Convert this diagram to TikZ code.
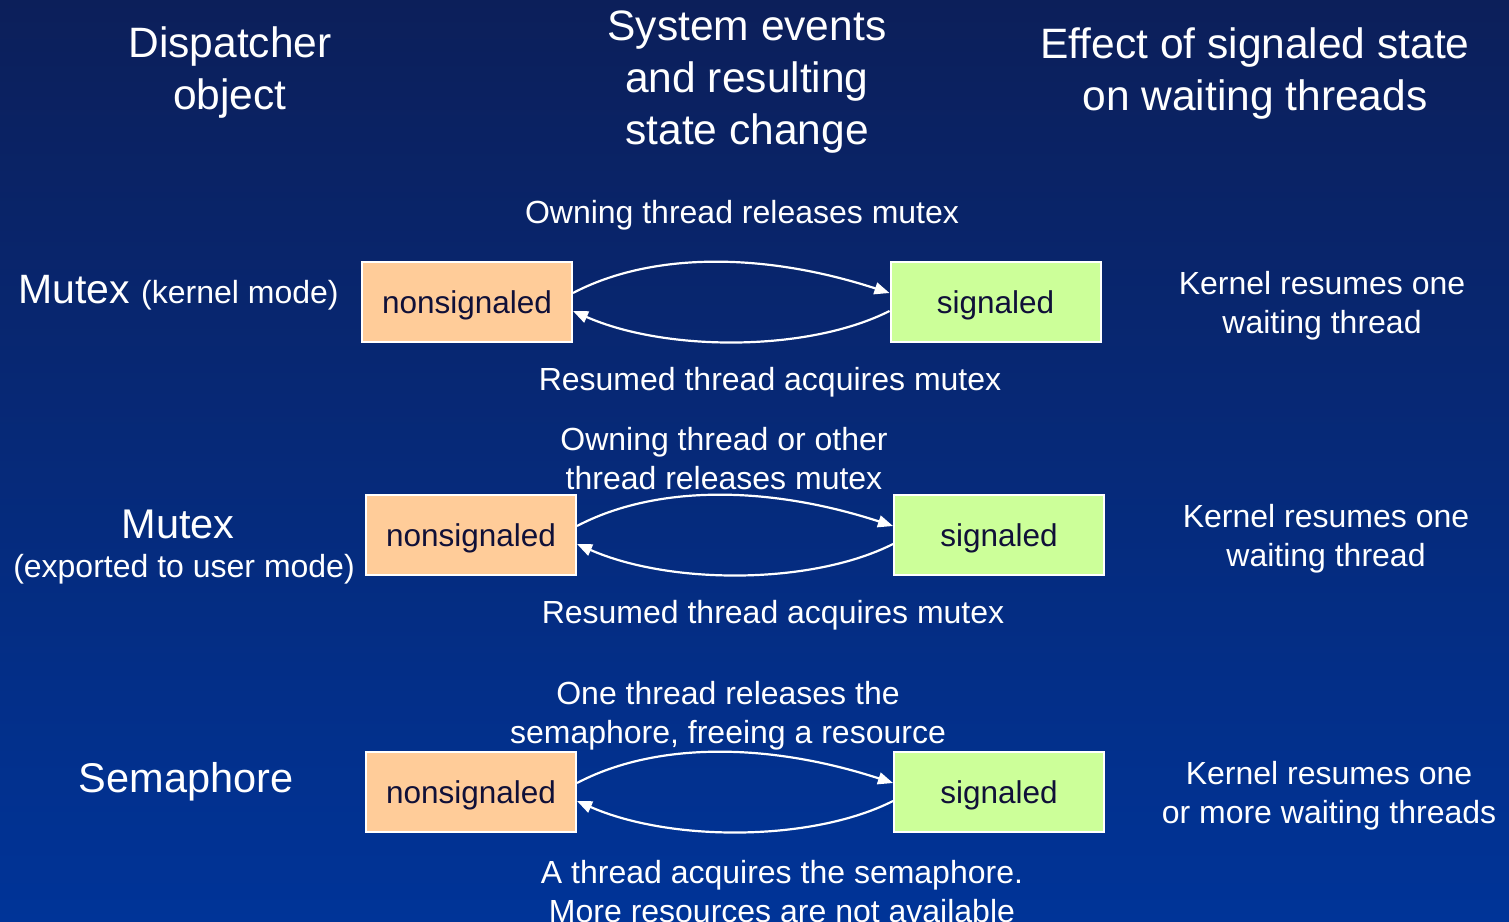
\documentclass[tikz,border=0pt]{standalone}
\usepackage{fontspec}
\setmainfont{Liberation Sans}
\usetikzlibrary{arrows.meta,calc}
\definecolor{bgtop}{RGB}{12,31,90}
\definecolor{bgbot}{RGB}{0,52,152}
\definecolor{peach}{RGB}{255,204,153}
\definecolor{lime}{RGB}{204,255,153}
\definecolor{boxtext}{RGB}{16,16,56}
\begin{document}
\begin{tikzpicture}[x=1pt,y=-1pt,
  head/.style={text=white,align=center,font=\fontsize{42.5}{52}\selectfont,inner sep=0pt,yshift=-4.5pt},
  lbl/.style={text=white,align=center,font=\fontsize{32}{38.5}\selectfont,inner sep=0pt,yshift=-3.5pt},
  big/.style={text=white,align=center,font=\fontsize{41.5}{48}\selectfont,inner sep=0pt,yshift=-3.5pt},
  state/.style={draw=white,line width=2pt,minimum width=210pt,minimum height=80pt,
    inner sep=0pt,text height=23pt,text depth=0pt,text=boxtext,font=\fontsize{31.5}{38}\selectfont},
  nsbox/.style={state,fill=peach},
  sgbox/.style={state,fill=lime},
  flow/.style={draw=white,line width=2.2pt,-{Triangle[length=15pt,width=12pt]}}]

% background
\fill[top color=bgtop,bottom color=bgbot] (0,0) rectangle (1509,921);
\useasboundingbox (0,0) rectangle (1509,921);

% column headings
\node[head] (h1) at (230,68) {Dispatcher\\object};
\node[head] (h2) at (747,78) {System events\\and resulting\\state change};
\node[head] (h3) at (1255,69) {Effect of signaled state\\on waiting threads};

% row 1: mutex in kernel mode
\node[anchor=west,text=white,inner sep=0pt,yshift=-3pt] (o1) at (18,290)
  {\fontsize{41}{48}\selectfont Mutex \fontsize{32}{38}\selectfont(kernel mode)};
\node[nsbox] (ns1) at (467,302) {nonsignaled};
\node[sgbox] (sg1) at (995.5,302) {signaled};
\node[lbl] (u1) at (742,212) {Owning thread releases mutex};
\node[lbl] (d1) at (770,379) {Resumed thread acquires mutex};
\node[lbl] (e1) at (1322,302) {Kernel resumes one\\waiting thread};
\draw[flow] ($(ns1.east)+(0,-9)$) .. controls +(78,-41) and +(-126,-41) .. ($(sg1.west)+(0,-9)$);
\draw[flow] ($(sg1.west)+(0,9)$) .. controls +(-81,41) and +(93,41) .. ($(ns1.east)+(0,9)$);

% row 2: mutex exported to user mode
\node[big] (o2) at (178,521) {Mutex};
\node[lbl] (o2b) at (184,566) {(exported to user mode)};
\node[nsbox] (ns2) at (471,535) {nonsignaled};
\node[sgbox] (sg2) at (999,535) {signaled};
\node[lbl] (u2) at (724,455) {Owning thread or other\\thread releases mutex};
\node[lbl] (d2) at (773,612) {Resumed thread acquires mutex};
\node[lbl] (e2) at (1326,535) {Kernel resumes one\\waiting thread};
\draw[flow] ($(ns2.east)+(0,-9)$) .. controls +(78,-41) and +(-126,-41) .. ($(sg2.west)+(0,-9)$);
\draw[flow] ($(sg2.west)+(0,9)$) .. controls +(-81,41) and +(93,41) .. ($(ns2.east)+(0,9)$);

% row 3: semaphore
\node[big] (o3) at (186,778) {Semaphore};
\node[nsbox] (ns3) at (471,792) {nonsignaled};
\node[sgbox] (sg3) at (999,792) {signaled};
\node[lbl] (u3) at (728,712) {One thread releases the\\semaphore, freeing a resource};
\node[lbl] (d3) at (782,888) {A thread acquires the semaphore.\\More resources are not available};
\node[lbl] (e3) at (1329,792) {Kernel resumes one\\or more waiting threads};
\draw[flow] ($(ns3.east)+(0,-9)$) .. controls +(78,-41) and +(-126,-41) .. ($(sg3.west)+(0,-9)$);
\draw[flow] ($(sg3.west)+(0,9)$) .. controls +(-81,41) and +(93,41) .. ($(ns3.east)+(0,9)$);
\end{tikzpicture}
\end{document}
